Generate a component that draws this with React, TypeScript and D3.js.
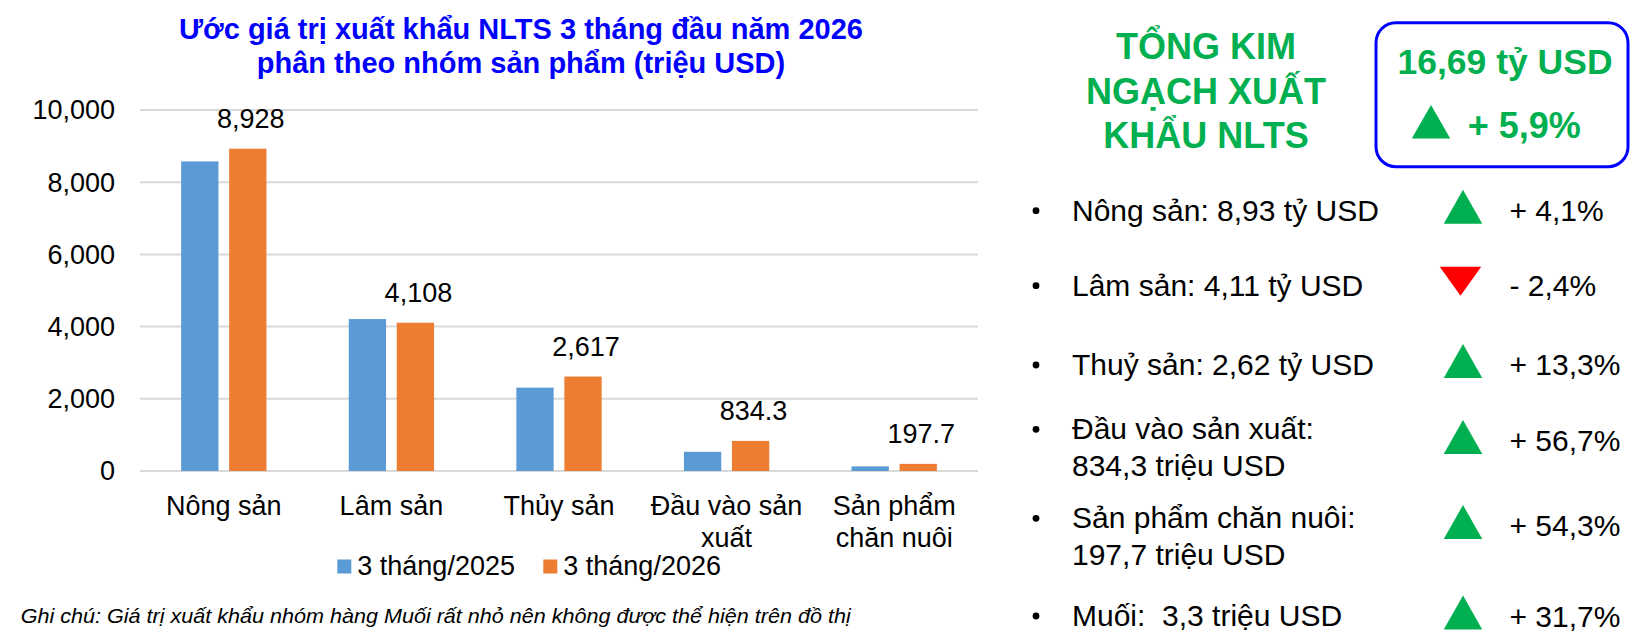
import React, { useRef, useEffect } from 'react';
import * as d3 from 'd3';

// Chart data
const categories = [['Nông sản'], ['Lâm sản'], ['Thủy sản'], ['Đầu vào sản', 'xuất'], ['Sản phẩm', 'chăn nuôi']];
const seriesNames = ['3 tháng/2025', '3 tháng/2026'];
const values2025 = [8576, 4209, 2310, 532, 128];
const values2026 = [8928, 4108, 2617, 834.3, 197.7];
const valueLabels = ['8,928', '4,108', '2,617', '834.3', '197.7'];
const yTicks = [0, 2000, 4000, 6000, 8000, 10000];

// Right panel data
const headingLines = ['TỔNG KIM', 'NGẠCH XUẤT', 'KHẨU NLTS'];
const totalValue = '16,69 tỷ USD';
const totalChange = 5.9;
const rowLines = [
  ['Nông sản: 8,93 tỷ USD'],
  ['Lâm sản: 4,11 tỷ USD'],
  ['Thuỷ sản: 2,62 tỷ USD'],
  ['Đầu vào sản xuất:', '834,3 triệu USD'],
  ['Sản phẩm chăn nuôi:', '197,7 triệu USD'],
  ['Muối:  3,3 triệu USD'],
];
const rowChanges = [4.1, -2.4, 13.3, 56.7, 54.3, 31.7];

const colors = {
  blue: '#5B9BD5',
  orange: '#ED7D31',
  grid: '#D9D9D9',
  title: '#0000FF',
  green: '#00B050',
  red: '#FF0000',
  text: '#000000',
};

const FONT = '"Liberation Sans", Arial, sans-serif';

const fmtPct = (v: number) => `${v >= 0 ? '+' : '-'} ${Math.abs(v).toFixed(1).replace('.', ',')}%`;

// up/down triangle path from its top edge
const triPath = (cx: number, top: number, w: number, h: number, up: boolean) =>
  up
    ? `M${cx},${top}L${cx + w / 2},${top + h}L${cx - w / 2},${top + h}Z`
    : `M${cx - w / 2},${top}L${cx + w / 2},${top}L${cx},${top + h}Z`;

const App: React.FC = () => {
  const svgRef = useRef<SVGSVGElement>(null);
  const width = 1651;
  const height = 640;

  useEffect(() => {
    if (!svgRef.current) return;
    const svg = d3.select(svgRef.current);
    svg.selectAll('*').remove();
    svg.attr('font-family', FONT);

    // ---- Title
    const title = svg.append('g').attr('fill', colors.title).attr('font-weight', 700)
      .attr('font-size', '29px').attr('text-anchor', 'middle');
    title.append('text').attr('x', 521).attr('y', 39).text('Ước giá trị xuất khẩu NLTS 3 tháng đầu năm 2026');
    title.append('text').attr('x', 521).attr('y', 72.5).text('phân theo nhóm sản phẩm (triệu USD)');

    // ---- Bar chart
    const plot = { left: 140, right: 978, top: 110, bottom: 471 };
    const x0 = d3.scaleBand<number>()
      .domain(d3.range(categories.length))
      .range([plot.left, plot.right])
      .padding(0);
    const x1 = d3.scaleBand<number>()
      .domain([0, 1])
      .range([0, x0.bandwidth()])
      .paddingInner(0.223)
      .paddingOuter(0.857);
    const y = d3.scaleLinear().domain([0, 10000]).range([plot.bottom, plot.top]);

    // Gridlines
    svg.append('g').selectAll('line')
      .data(yTicks)
      .enter()
      .append('line')
      .attr('x1', plot.left)
      .attr('x2', plot.right)
      .attr('y1', d => y(d))
      .attr('y2', d => y(d))
      .attr('stroke', colors.grid)
      .attr('stroke-width', 2);

    // Y tick labels
    svg.append('g').selectAll('text')
      .data(yTicks)
      .enter()
      .append('text')
      .attr('x', 115)
      .attr('y', d => y(d))
      .attr('dy', '0.35em')
      .attr('text-anchor', 'end')
      .attr('font-size', '27px')
      .attr('fill', colors.text)
      .text(d => d3.format(',')(d));

    const series = [values2025, values2026];
    const seriesColors = [colors.blue, colors.orange];
    series.forEach((vals, si) => {
      svg.append('g').selectAll('rect')
        .data(vals)
        .enter()
        .append('rect')
        .attr('x', (_, i) => x0(i)! + x1(si)!)
        .attr('y', d => y(d))
        .attr('width', x1.bandwidth())
        .attr('height', d => y(0) - y(d))
        .attr('fill', seriesColors[si]);
    });

    // Value labels above the 2026 bars
    svg.append('g').selectAll('text')
      .data(values2026)
      .enter()
      .append('text')
      .attr('x', (_, i) => x0(i)! + x1(1)! + x1.bandwidth() / 2 + 3)
      .attr('y', d => y(d) - 21)
      .attr('text-anchor', 'middle')
      .attr('font-size', '27px')
      .attr('fill', colors.text)
      .text((_, i) => valueLabels[i]);

    // Category labels
    const cat = svg.append('g').attr('font-size', '27px').attr('text-anchor', 'middle').attr('fill', colors.text);
    categories.forEach((lines, i) => {
      lines.forEach((line, li) => {
        cat.append('text')
          .attr('x', x0(i)! + x0.bandwidth() / 2)
          .attr('y', 515 + li * 31.7)
          .text(line);
      });
    });

    // Legend
    const legendX = [337.3, 543.3];
    seriesNames.forEach((name, si) => {
      svg.append('rect')
        .attr('x', legendX[si])
        .attr('y', 559.5)
        .attr('width', 14)
        .attr('height', 14)
        .attr('fill', seriesColors[si]);
      svg.append('text')
        .attr('x', legendX[si] + 20)
        .attr('y', 575)
        .attr('font-size', '27px')
        .attr('fill', colors.text)
        .text(name);
    });

    // Footnote
    svg.append('text')
      .attr('x', 20.7)
      .attr('y', 622.5)
      .attr('font-size', '21px')
      .attr('font-style', 'italic')
      .attr('fill', colors.text)
      .attr('textLength', 830)
      .attr('lengthAdjust', 'spacingAndGlyphs')
      .text('Ghi chú: Giá trị xuất khẩu nhóm hàng Muối rất nhỏ nên không được thể hiện trên đồ thị');

    // ---- Right panel heading
    const heading = svg.append('g').attr('fill', colors.green).attr('font-weight', 700)
      .attr('font-size', '36px').attr('text-anchor', 'middle');
    headingLines.forEach((line, i) => {
      heading.append('text').attr('x', 1206).attr('y', 59.3 + i * 44.2).text(line);
    });

    // Total box
    svg.append('rect')
      .attr('x', 1376)
      .attr('y', 22.7)
      .attr('width', 252)
      .attr('height', 144)
      .attr('rx', 20)
      .attr('fill', 'none')
      .attr('stroke', '#0000FF')
      .attr('stroke-width', 3);
    svg.append('text')
      .attr('x', 1505)
      .attr('y', 74)
      .attr('text-anchor', 'middle')
      .attr('font-size', '35.5px')
      .attr('font-weight', 700)
      .attr('fill', colors.green)
      .text(totalValue);

    svg.append('path')
      .attr('d', triPath(1431, 105, 38.5, 33.5, totalChange >= 0))
      .attr('fill', totalChange >= 0 ? colors.green : colors.red);
    svg.append('text')
      .attr('x', 1467.7)
      .attr('y', 138.3)
      .attr('font-size', '36px')
      .attr('font-weight', 700)
      .attr('fill', colors.green)
      .text(fmtPct(totalChange));

    // Rows
    const rowBaselines = [[220.7], [295.7], [375], [439.3, 476], [528.3, 565], [626]];
    const pctBaselines = [220.7, 295.7, 375, 451, 536, 626.5];
    const rows = svg.append('g').attr('font-size', '30px').attr('fill', colors.text);
    rowLines.forEach((lines, i) => {
      const bl = rowBaselines[i];
      rows.append('circle')
        .attr('cx', 1036)
        .attr('cy', bl[0] - 10)
        .attr('r', 3.4)
        .attr('fill', colors.text);
      lines.forEach((line, li) => {
        rows.append('text')
          .attr('x', 1072)
          .attr('y', bl[li])
          .style('white-space', 'pre')
          .text(line);
      });
      const up = rowChanges[i] >= 0;
      const pb = pctBaselines[i];
      rows.append('path')
        .attr('d', up ? triPath(1463, pb - 31, 38.5, 34, true) : triPath(1460.5, pb - 29, 41.5, 29, false))
        .attr('fill', up ? colors.green : colors.red);
      rows.append('text')
        .attr('x', 1509.5)
        .attr('y', pb)
        .text(fmtPct(rowChanges[i]));
    });
  }, []);

  return (
    <svg
      ref={svgRef}
      width={width}
      height={height}
      style={{ position: 'absolute', left: 0, top: 0, background: '#fff' }}
    />
  );
};

export default App;
